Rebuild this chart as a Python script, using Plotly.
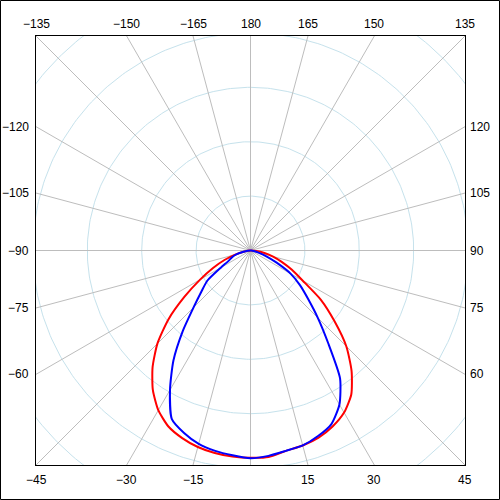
import numpy as np
import plotly.graph_objects as go

# Luminous intensity distribution, two C-planes (cd/klm), gamma angles from nadir
angles = [-90, -85, -80, -75, -70, -65, -60, -55, -50, -45, -40, -35, -30, -25, -20, -15, -10, -5,
          0, 5, 10, 15, 20, 25, 30, 35, 40, 45, 50, 55, 60, 65, 70, 75, 80, 85, 90]
red_plane = [0, 5, 13, 29, 51, 76, 107, 148, 197, 242, 280, 313, 339, 357, 367, 374, 378, 380,
             381, 381, 374, 371, 366, 357, 344, 323, 289, 249, 201, 158, 111, 84, 61, 43, 26, 11, 0]
blue_plane = [0, 5, 13, 26, 36, 44, 63, 97, 118, 148, 194, 247, 296, 342, 357, 368, 374, 378,
              382, 379, 374, 371, 363, 352, 327, 287, 222, 175, 138, 111, 85, 53, 31, 15, 6, 2, 0]

circle_values = [100, 200, 300, 400, 500]
spoke_angles = list(range(-180, 180, 15))
label_angles = [-135, -150, -165, 180, 165, 150, 135,
                -120, -105, -90, -75, -60,
                120, 105, 90, 75, 60,
                -45, -30, -15, 15, 30, 45]

H = 394.3  # half width of the square plot, same units as the data


def to_xy(theta_deg, r):
    t = np.radians(np.asarray(theta_deg, dtype=float))
    r = np.asarray(r, dtype=float)
    return r * np.sin(t), -r * np.cos(t)


fig = go.Figure()

# circles
phi = np.linspace(0, 360, 361)
for c in circle_values:
    cx, cy = to_xy(phi, np.full_like(phi, c))
    fig.add_trace(go.Scatter(x=cx, y=cy, mode='lines', hoverinfo='skip',
                             line=dict(color='#c6e2ec', width=1), showlegend=False))

# spokes
for a in spoke_angles:
    sx, sy = to_xy([a, a], [0, 700])
    fig.add_trace(go.Scatter(x=sx, y=sy, mode='lines', hoverinfo='skip',
                             line=dict(color='#bdbdbd', width=1), showlegend=False))

# curves
for vals, col, name in [(red_plane, '#ff0000', 'C0-C180'), (blue_plane, '#0000ff', 'C90-C270')]:
    x, y = to_xy(angles, vals)
    fig.add_trace(go.Scatter(x=x, y=y, mode='lines', name=name,
                             line=dict(color=col, width=2, shape='spline', smoothing=0.6),
                             showlegend=False))

# angle labels where the spokes hit the frame
for a in label_angles:
    s, c = np.sin(np.radians(a)), np.cos(np.radians(a))
    t = H / max(abs(s), abs(c))
    px, py = t * s, -t * c
    ann = dict(x=px, y=py, text=str(a).replace('-', '\u2212'), showarrow=False,
               font=dict(family='Liberation Sans, Arial', size=12, color='#000000'))
    if abs(c) >= abs(s) - 1e-9:
        if py > 0:
            ann.update(yanchor='bottom', xanchor='center', yshift=3)
        else:
            ann.update(yanchor='top', xanchor='center', yshift=-6)
    else:
        if px < 0:
            ann.update(xanchor='right', yanchor='middle', xshift=-5)
        else:
            ann.update(xanchor='left', yanchor='middle', xshift=3)
    fig.add_annotation(**ann)

l, r, t, b = 36, 35, 36, 35
w = 500 - l - r
fig.add_shape(type='rect', xref='paper', yref='paper',
              x0=-(l - 0.5) / w, x1=1 + (r - 0.5) / w,
              y0=-(b - 0.5) / w, y1=1 + (t - 0.5) / w,
              line=dict(color='#000000', width=1))

fig.update_layout(
    width=500, height=500,
    margin=dict(l=l, r=r, t=t, b=b),
    plot_bgcolor='#ffffff', paper_bgcolor='#ffffff',
    xaxis=dict(range=[-H, H], showgrid=False, zeroline=False, showticklabels=False,
               showline=True, mirror=True, linecolor='#000000', linewidth=1, ticks=''),
    yaxis=dict(range=[-H, H], showgrid=False, zeroline=False, showticklabels=False,
               showline=True, mirror=True, linecolor='#000000', linewidth=1, ticks=''),
)

# page has a default 8px body margin, drop it so the 500x500 figure fits the window
fig.write_html("out.html", config={'displayModeBar': False},
               post_script="document.body.style.margin='0px';")
